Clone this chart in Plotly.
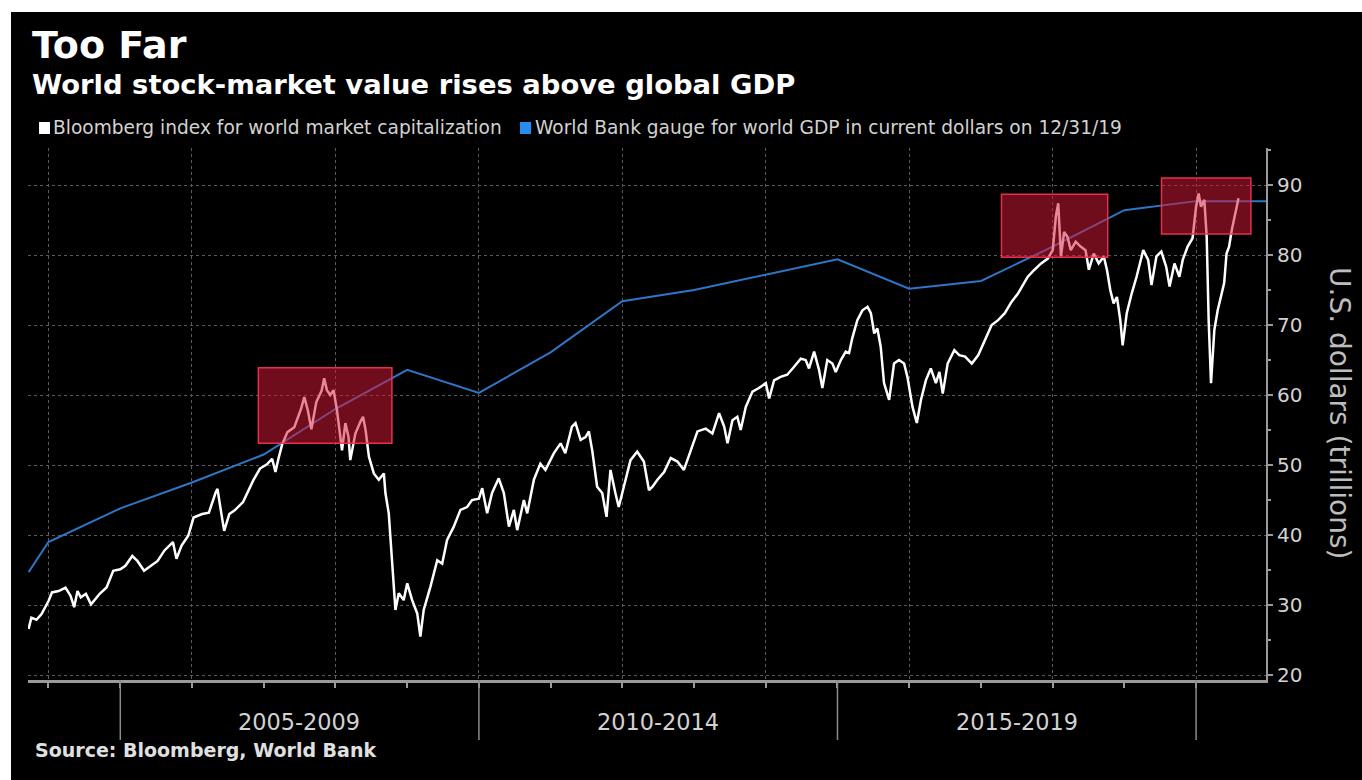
import plotly.graph_objects as go

# ---------------- data ----------------
TITLE = "Too Far"
SUBTITLE = "World stock-market value rises above global GDP"
LEGEND_LABELS = ["Bloomberg index for world market capitalization",
                 "World Bank gauge for world GDP in current dollars on 12/31/19"]
SOURCE = "Source: Bloomberg, World Bank"
Y_TITLE = "U.S. dollars (trillions)"
PERIOD_LABELS = ["2005-2009", "2010-2014", "2015-2019"]
PERIOD_CENTERS = ["2007-07-02", "2012-07-01", "2017-07-02"]
PERIOD_BOUNDS = ["2005-01-01", "2010-01-01", "2015-01-01", "2020-01-01"]
Y_TICKS = [20, 30, 40, 50, 60, 70, 80, 90]

MKT_DATES = [
    "2003-09-22", "2003-10-06", "2003-11-01", "2003-11-27", "2004-01-02", "2004-01-19", "2004-02-22",
    "2004-03-28", "2004-04-23", "2004-05-11", "2004-05-28", "2004-06-14", "2004-07-10", "2004-08-05",
    "2004-09-18", "2004-10-23", "2004-11-26", "2005-01-01", "2005-01-27", "2005-03-03", "2005-03-29",
    "2005-05-02", "2005-06-06", "2005-07-10", "2005-08-14", "2005-09-26", "2005-10-14", "2005-11-09",
    "2005-12-13", "2006-01-09", "2006-02-22", "2006-03-28", "2006-05-02", "2006-05-11", "2006-05-28",
    "2006-06-14", "2006-07-10", "2006-08-05", "2006-09-18", "2006-11-09", "2006-12-13", "2007-01-18",
    "2007-02-13", "2007-03-02", "2007-03-19", "2007-04-06", "2007-05-02", "2007-06-06", "2007-07-10",
    "2007-07-27", "2007-08-14", "2007-09-01", "2007-09-26", "2007-10-23", "2007-11-05", "2007-11-19",
    "2007-12-06", "2007-12-23", "2008-01-09", "2008-01-26", "2008-02-04", "2008-02-21", "2008-03-08",
    "2008-03-17", "2008-04-12", "2008-05-08", "2008-05-21", "2008-06-03", "2008-06-20", "2008-07-15",
    "2008-08-09", "2008-09-04", "2008-09-12", "2008-09-29", "2008-10-16", "2008-11-02", "2008-11-19",
    "2008-12-14", "2009-01-01", "2009-01-26", "2009-02-21", "2009-03-09", "2009-03-26", "2009-04-29",
    "2009-06-03", "2009-06-28", "2009-07-23", "2009-08-26", "2009-09-29", "2009-11-02", "2009-11-27",
    "2010-01-01", "2010-01-18", "2010-02-12", "2010-03-09", "2010-04-12", "2010-05-08", "2010-06-03",
    "2010-06-28", "2010-07-15", "2010-08-18", "2010-09-04", "2010-10-08", "2010-11-10", "2010-12-06",
    "2011-01-18", "2011-02-21", "2011-03-17", "2011-04-20", "2011-05-08", "2011-06-03", "2011-06-28",
    "2011-07-15", "2011-08-01", "2011-08-26", "2011-09-21", "2011-10-13", "2011-11-02", "2011-11-27",
    "2011-12-14", "2012-01-09", "2012-02-12", "2012-03-17", "2012-04-20", "2012-05-16", "2012-06-03",
    "2012-06-28", "2012-08-01", "2012-09-04", "2012-10-08", "2012-11-10", "2012-12-14", "2013-01-18",
    "2013-03-01", "2013-04-04", "2013-05-08", "2013-06-03", "2013-06-20", "2013-07-15", "2013-08-09",
    "2013-08-26", "2013-09-21", "2013-10-25", "2013-11-27", "2014-01-01", "2014-01-18", "2014-02-12",
    "2014-03-17", "2014-04-20", "2014-05-24", "2014-06-28", "2014-07-23", "2014-08-09", "2014-09-04",
    "2014-09-29", "2014-10-16", "2014-11-10", "2014-12-06", "2014-12-23", "2015-01-18", "2015-02-12",
    "2015-03-01", "2015-03-17", "2015-04-12", "2015-05-08", "2015-06-03", "2015-06-20", "2015-07-07",
    "2015-07-23", "2015-08-09", "2015-08-26", "2015-09-21", "2015-10-16", "2015-11-10", "2015-12-06",
    "2015-12-23", "2016-01-18", "2016-02-09", "2016-03-01", "2016-03-26", "2016-04-20", "2016-05-16",
    "2016-06-03", "2016-06-20", "2016-07-15", "2016-08-18", "2016-09-12", "2016-10-12", "2016-11-15",
    "2016-12-18", "2017-01-21", "2017-02-24", "2017-03-29", "2017-05-02", "2017-06-05", "2017-07-08",
    "2017-08-02", "2017-08-27", "2017-09-30", "2017-11-03", "2017-12-07", "2018-01-01", "2018-01-17",
    "2018-01-29", "2018-02-12", "2018-02-28", "2018-03-17", "2018-04-03", "2018-04-28", "2018-05-23",
    "2018-06-17", "2018-07-04", "2018-07-29", "2018-08-23", "2018-09-18", "2018-10-04", "2018-10-21",
    "2018-11-07", "2018-11-24", "2018-12-11", "2018-12-23", "2019-01-13", "2019-02-07", "2019-03-04",
    "2019-04-07", "2019-05-02", "2019-05-19", "2019-06-13", "2019-07-08", "2019-08-02", "2019-08-19",
    "2019-09-13", "2019-10-08", "2019-10-25", "2019-11-19", "2019-12-14", "2020-01-01", "2020-01-14",
    "2020-01-26", "2020-02-12", "2020-02-24", "2020-03-05", "2020-03-17", "2020-04-03", "2020-04-20",
    "2020-05-07", "2020-05-23", "2020-06-04", "2020-06-17", "2020-07-01", "2020-07-17", "2020-08-04",
]
MKT_VALUES = [
    26.6, 28.2, 27.9, 28.7, 30.6, 31.8, 32.0,
    32.5, 31.3, 29.7, 32.0, 31.1, 31.6, 30.1,
    31.6, 32.5, 34.9, 35.1, 35.6, 37.0, 36.3,
    34.9, 35.6, 36.3, 37.8, 39.0, 36.6, 38.5,
    39.9, 42.5, 43.0, 43.2, 46.1, 46.6, 43.5,
    40.6, 43.0, 43.5, 44.7, 47.8, 49.5, 50.1,
    50.9, 49.0, 51.1, 53.0, 54.7, 55.4, 58.0,
    59.7, 57.8, 55.1, 59.0, 60.6, 62.4, 60.7,
    60.0, 60.7, 57.9, 54.5, 52.1, 56.0, 54.0,
    50.7, 54.5, 56.2, 56.9, 55.0, 51.2, 48.8,
    47.9, 48.8, 46.0, 43.1, 35.5, 29.3, 31.7,
    30.7, 33.1, 30.7, 28.8, 25.5, 29.3, 32.6,
    36.4, 35.9, 39.3, 41.2, 43.6, 44.0, 45.0,
    45.2, 46.7, 43.1, 46.0, 48.1, 46.0, 41.2,
    43.6, 40.7, 45.0, 43.1, 47.9, 50.2, 49.3,
    51.7, 53.1, 51.7, 55.5, 56.0, 53.6, 54.0,
    54.8, 52.1, 46.9, 46.0, 42.6, 49.3, 46.0,
    44.0, 46.9, 50.7, 51.9, 50.5, 46.4, 46.9,
    47.9, 49.0, 51.0, 50.5, 49.3, 52.1, 54.8,
    55.2, 54.5, 57.4, 55.5, 53.1, 56.4, 56.9,
    55.0, 58.3, 60.5, 61.0, 61.7, 59.5, 62.1,
    62.6, 62.9, 64.0, 65.2, 65.0, 63.8, 66.2,
    63.6, 61.0, 65.0, 64.5, 63.3, 65.0, 66.2,
    66.0, 68.1, 70.7, 72.1, 72.6, 71.7, 68.8,
    69.5, 66.9, 61.7, 59.3, 64.5, 65.0, 64.5,
    62.6, 58.3, 56.0, 59.3, 62.1, 63.8, 61.7,
    63.3, 60.2, 64.5, 66.4, 65.7, 65.5, 64.5,
    65.7, 67.9, 70.0, 70.7, 71.7, 73.3, 74.5,
    75.7, 76.9, 77.9, 78.8, 79.5, 80.7, 85.5,
    87.4, 79.8, 83.3, 82.6, 80.7, 81.9, 81.2,
    80.7, 77.9, 80.2, 78.8, 79.8, 77.9, 75.0,
    73.1, 74.0, 70.7, 67.1, 71.7, 74.5, 76.9,
    80.7, 79.3, 75.7, 79.8, 80.5, 78.3, 75.5,
    78.8, 76.9, 79.3, 81.2, 82.4, 86.9, 88.8,
    86.9, 87.9, 82.6, 70.7, 61.7, 69.3, 72.1,
    74.0, 76.0, 80.2, 81.2, 83.6, 85.5, 88.1,
]

GDP_DATES = ["2003-09-22", "2004-01-01", "2005-01-01", "2006-01-01", "2007-01-01", "2008-01-01",
             "2009-01-01", "2010-01-01", "2011-01-01", "2012-01-01", "2013-01-01", "2014-01-01",
             "2015-01-01", "2016-01-01", "2017-01-01", "2018-01-01", "2019-01-01", "2020-01-01",
             "2020-12-22"]
GDP_VALUES = [34.7, 39.0, 43.8, 47.5, 51.5, 58.0, 63.6, 60.3, 66.1, 73.4, 75.0, 77.2,
              79.4, 75.2, 76.3, 81.2, 86.4, 87.7, 87.7]

HIGHLIGHT_START = ["2006-12-05", "2017-04-15", "2019-07-09"]
HIGHLIGHT_END = ["2008-10-15", "2018-10-08", "2020-10-06"]
HIGHLIGHT_LOW = [53.1, 79.7, 83.0]
HIGHLIGHT_HIGH = [63.9, 88.7, 91.0]

X_RANGE = ["2003-09-19", "2020-12-22"]
Y_RANGE = [19.29, 95.29]

# ---------------- style ----------------
W, H = 1362, 780
L, R, T, B = 28, 1266, 148, 680
FONT_REG = "DejaVu Sans, sans-serif"
FONT_BOLD = "DejaVu Sans, sans-serif"
WHITE_LINE = "#ffffff"
BLUE_LINE = "#2e76c6"
BLUE_KEY = "#2a8cf0"
GRID = "#5a5a5a"
AXIS = "#9a9a9a"
TEXT = "#d2d2d2"


def fx(px):
    return (px - L) / (R - L)


def fy(py):
    return (B - py) / (B - T)


fig = go.Figure()
fig.add_trace(go.Scatter(x=GDP_DATES, y=GDP_VALUES, mode="lines",
                         line=dict(color=BLUE_LINE, width=2), showlegend=False,
                         name=LEGEND_LABELS[1]))
fig.add_trace(go.Scatter(x=MKT_DATES, y=MKT_VALUES, mode="lines",
                         line=dict(color=WHITE_LINE, width=2.5), showlegend=False,
                         name=LEGEND_LABELS[0]))

shapes = []
# black panel (the reference has a thin white strip on top/left)
shapes.append(dict(type="rect", xref="paper", yref="paper", x0=fx(11), x1=fx(W + 5),
                   y0=fy(H + 5), y1=fy(12), fillcolor="black", line=dict(width=0), layer="below"))
# long period separator ticks
for d in PERIOD_BOUNDS:
    shapes.append(dict(type="line", xref="x", yref="paper", x0=d, x1=d, y0=0, y1=fy(740),
                       line=dict(color="#8a8a8a", width=1.5), layer="above"))
# highlight boxes
for s, e, lo, hi in zip(HIGHLIGHT_START, HIGHLIGHT_END, HIGHLIGHT_LOW, HIGHLIGHT_HIGH):
    shapes.append(dict(type="rect", xref="x", yref="y", x0=s, x1=e, y0=lo, y1=hi,
                       fillcolor="rgba(215,25,55,0.52)",
                       line=dict(color="rgba(240,50,80,0.95)", width=1.5), layer="above"))
# legend keys
shapes.append(dict(type="rect", xref="paper", yref="paper", x0=fx(39), x1=fx(50),
                   y0=fy(134), y1=fy(122), fillcolor="white", line=dict(width=0)))
shapes.append(dict(type="rect", xref="paper", yref="paper", x0=fx(520), x1=fx(531),
                   y0=fy(134), y1=fy(122), fillcolor=BLUE_KEY, line=dict(width=0)))

ann = []
ann.append(dict(text="<b>" + TITLE + "</b>", xref="paper", yref="paper", x=fx(30), y=fy(45),
                xanchor="left", yanchor="middle", showarrow=False,
                font=dict(family=FONT_BOLD, size=38, color="white")))
ann.append(dict(text="<b>" + SUBTITLE + "</b>", xref="paper", yref="paper", x=fx(30), y=fy(85),
                xanchor="left", yanchor="middle", showarrow=False,
                font=dict(family=FONT_BOLD, size=27.4, color="white")))
ann.append(dict(text=LEGEND_LABELS[0], xref="paper", yref="paper", x=fx(51), y=fy(128),
                xanchor="left", yanchor="middle", showarrow=False,
                font=dict(family=FONT_REG, size=18.6, color=TEXT)))
ann.append(dict(text=LEGEND_LABELS[1], xref="paper", yref="paper", x=fx(533), y=fy(128),
                xanchor="left", yanchor="middle", showarrow=False,
                font=dict(family=FONT_REG, size=18.6, color=TEXT)))
for lab, c in zip(PERIOD_LABELS, PERIOD_CENTERS):
    ann.append(dict(text=lab, xref="x", yref="paper", x=c, y=fy(722),
                    xanchor="center", yanchor="middle", showarrow=False,
                    font=dict(family=FONT_REG, size=22.4, color=TEXT)))
ann.append(dict(text="<b>" + SOURCE + "</b>", xref="paper", yref="paper", x=fx(33), y=fy(750),
                xanchor="left", yanchor="middle", showarrow=False,
                font=dict(family=FONT_BOLD, size=19, color="#e0e0e0")))
ann.append(dict(text=Y_TITLE, xref="paper", yref="paper", x=fx(1340), y=fy(413),
                xanchor="center", yanchor="middle", showarrow=False, textangle=90,
                font=dict(family=FONT_REG, size=28, color="#bdbdbd")))

fig.update_layout(
    width=W, height=H,
    margin=dict(l=L, r=W - R, t=T, b=H - B, pad=0),
    paper_bgcolor="white", plot_bgcolor="black",
    shapes=shapes, annotations=ann, showlegend=False,
    xaxis=dict(type="date", range=X_RANGE, tick0="2004-01-01", dtick="M24",
               showgrid=True, gridcolor=GRID, griddash="dot", gridwidth=1,
               showticklabels=False, ticks="outside", ticklen=5, tickcolor=AXIS, tickwidth=1.5,
               minor=dict(dtick="M12", tick0="2004-01-01", ticks="outside", ticklen=5,
                          tickcolor=AXIS, tickwidth=1.5, showgrid=False),
               showline=True, linecolor=AXIS, linewidth=3, zeroline=False, fixedrange=True),
    yaxis=dict(side="right", range=Y_RANGE, tickvals=Y_TICKS,
               showgrid=True, gridcolor=GRID, griddash="dot", gridwidth=1,
               ticks="outside", ticklen=5, tickcolor=AXIS, tickwidth=1.5,
               minor=dict(dtick=5, tick0=0, ticks="outside", ticklen=3, tickcolor=AXIS, showgrid=False),
               showline=True, linecolor=AXIS, linewidth=2, zeroline=False,
               tickfont=dict(family=FONT_REG, size=20, color=TEXT), fixedrange=True),
)

fig.write_html("out.html")
